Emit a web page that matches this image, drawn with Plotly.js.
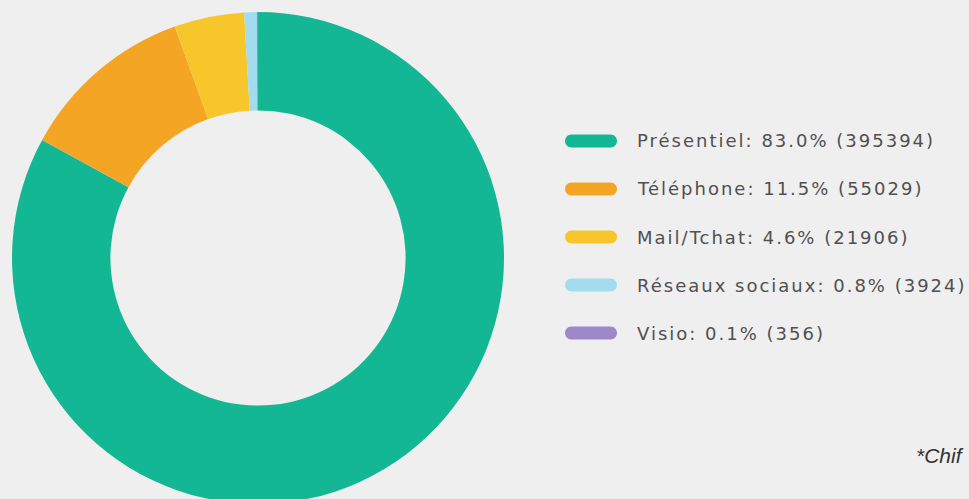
<!DOCTYPE html>
<html>
<head>
<meta charset="utf-8">
<script src="https://cdn.plot.ly/plotly-3.0.1.min.js"></script>
<style>
html,body{margin:0;padding:0;background:#efefef;overflow:hidden;}
#chart{width:969px;height:515px;}
text.annotation-text[style*="DejaVu"]{letter-spacing:2px;}
</style>
</head>
<body>
<div id="chart"></div>
<script>
const categories = ["Présentiel", "Téléphone", "Mail/Tchat", "Réseaux sociaux", "Visio"];
const counts = [395394, 55029, 21906, 3924, 356];
const colors = ["#14b794", "#f5a524", "#f7c62a", "#a3dbef", "#9b89c9"];
const footnote = "*Chif";

const W = 969, H = 515;
const total = counts.reduce((a, b) => a + b, 0);
const legendLabels = categories.map((c, i) =>
  c + ": " + (counts[i] / total * 100).toFixed(1) + "% (" + counts[i] + ")");

const pie = {
  type: "pie",
  labels: categories,
  values: counts,
  hole: 0.6,
  sort: false,
  direction: "clockwise",
  rotation: 0,
  textinfo: "none",
  hoverinfo: "label+value+percent",
  marker: {colors: colors, line: {width: 0}},
  showlegend: false,
  domain: {x: [12 / W, 504 / W], y: [1 - 504 / H, 1 - 12 / H]}
};

const shapes = [];
const annotations = [];
const rowTop = 141, rowStep = 48;
const pillPath = "M -19.5,-6.5 L 19.5,-6.5 C 23.1,-6.5 26,-3.6 26,0 C 26,3.6 23.1,6.5 19.5,6.5 " +
                 "L -19.5,6.5 C -23.1,6.5 -26,3.6 -26,0 C -26,-3.6 -23.1,-6.5 -19.5,-6.5 Z";
categories.forEach((c, i) => {
  const yPx = rowTop + i * rowStep;
  const yPaper = 1 - yPx / H;
  shapes.push({
    type: "path",
    xref: "paper", yref: "paper",
    xsizemode: "pixel", ysizemode: "pixel",
    xanchor: 591 / W, yanchor: yPaper,
    path: pillPath,
    fillcolor: colors[i],
    line: {width: 0}
  });
  annotations.push({
    xref: "paper", yref: "paper",
    x: 635 / W, y: yPaper,
    xanchor: "left", yanchor: "middle",
    showarrow: false,
    text: legendLabels[i],
    font: {family: "DejaVu Sans, sans-serif", size: 18, color: "#505050"}
  });
});
annotations.push({
  xref: "paper", yref: "paper",
  x: 914 / W, y: 1 - 455 / H,
  xanchor: "left", yanchor: "middle",
  showarrow: false,
  text: "<i>" + footnote + "</i>",
  font: {family: "Liberation Sans, Arial, sans-serif", size: 21, color: "#333333"}
});

const layout = {
  width: W, height: H,
  margin: {l: 0, r: 0, t: 0, b: 0},
  paper_bgcolor: "#efefef",
  plot_bgcolor: "#efefef",
  showlegend: false,
  shapes: shapes,
  annotations: annotations
};

Plotly.newPlot("chart", [pie], layout, {displayModeBar: false, staticPlot: true});
</script>
</body>
</html>
